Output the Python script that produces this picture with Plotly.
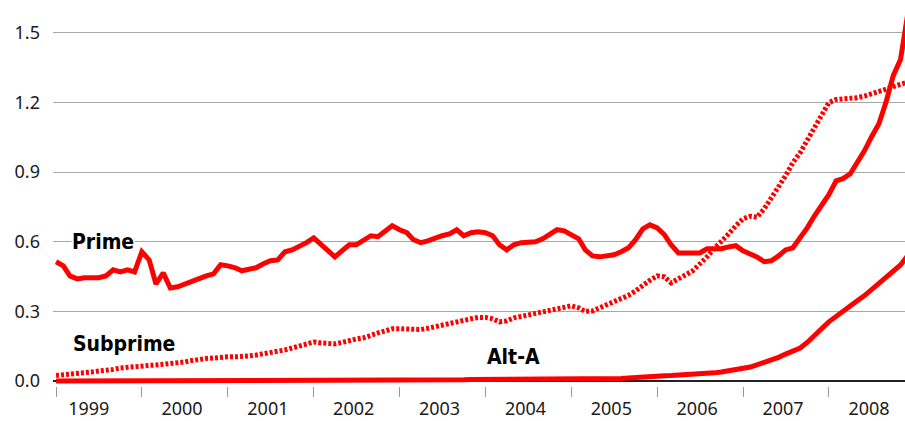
import pandas as pd
import plotly.graph_objects as go

# Monthly observations, Jan 1999 - Dec 2008
months = pd.date_range("1999-01-01", periods=120, freq="MS")

prime = [0.514,0.496,0.453,0.440,0.445,0.445,0.445,0.453,0.479,0.470,0.479,0.470,
         0.557,0.522,0.418,0.466,0.401,0.406,0.419,0.432,0.445,0.453,0.462,0.501,
         0.496,0.488,0.475,0.479,0.488,0.505,0.518,0.522,0.557,0.565,0.578,0.596,
         0.617,0.587,0.561,0.535,0.561,0.587,0.587,0.609,0.626,0.622,0.643,0.669,
         0.652,0.639,0.609,0.596,0.604,0.617,0.626,0.634,0.652,0.626,0.639,0.643,
         0.639,0.626,0.587,0.565,0.587,0.596,0.596,0.600,0.613,0.634,0.652,0.647,
         0.630,0.613,0.565,0.539,0.535,0.539,0.544,0.557,0.574,0.609,0.656,0.673,
         0.660,0.630,0.587,0.552,0.552,0.548,0.552,0.570,0.570,0.570,0.578,0.583,
         0.561,0.548,0.535,0.514,0.518,0.539,0.565,0.574,0.617,0.660,0.712,0.755,
         0.803,0.863,0.872,0.893,0.941,0.993,1.053,1.109,1.204,1.316,1.385,1.578]

subprime = [0.024,0.026,0.028,0.030,0.035,0.039,0.043,0.045,0.050,0.056,0.060,0.063,
            0.065,0.067,0.069,0.071,0.073,0.078,0.082,0.088,0.095,0.097,0.099,0.104,
            0.104,0.104,0.104,0.108,0.112,0.117,0.121,0.127,0.134,0.142,0.151,0.160,
            0.168,0.164,0.160,0.160,0.166,0.175,0.181,0.186,0.199,0.207,0.216,0.225,
            0.225,0.224,0.222,0.222,0.227,0.233,0.240,0.248,0.252,0.259,0.268,0.274,
            0.274,0.268,0.255,0.259,0.272,0.278,0.285,0.289,0.296,0.304,0.313,0.319,
            0.324,0.315,0.300,0.302,0.315,0.326,0.337,0.350,0.369,0.388,0.414,0.434,
            0.453,0.449,0.423,0.438,0.457,0.475,0.501,0.535,0.572,0.600,0.634,0.669,
            0.699,0.710,0.706,0.742,0.785,0.837,0.885,0.941,0.984,1.036,1.088,1.148,
            1.200,1.213,1.215,1.219,1.221,1.228,1.236,1.245,1.258,1.269,1.278,1.288]

alt_a = [0.000,0.000,0.000,0.000,0.000,0.000,0.000,0.000,0.000,0.000,0.000,0.001,
         0.001,0.001,0.001,0.001,0.001,0.001,0.001,0.001,0.001,0.002,0.002,0.002,
         0.003,0.003,0.002,0.002,0.002,0.002,0.002,0.002,0.002,0.003,0.003,0.003,
         0.003,0.003,0.003,0.003,0.003,0.004,0.004,0.004,0.004,0.004,0.004,0.004,
         0.004,0.004,0.005,0.005,0.005,0.005,0.005,0.005,0.005,0.005,0.006,0.006,
         0.006,0.006,0.006,0.006,0.006,0.007,0.007,0.007,0.007,0.007,0.007,0.007,
         0.007,0.007,0.008,0.008,0.009,0.009,0.010,0.011,0.013,0.016,0.019,0.021,
         0.022,0.023,0.024,0.025,0.026,0.027,0.029,0.032,0.035,0.039,0.043,0.049,
         0.054,0.060,0.069,0.079,0.090,0.102,0.116,0.130,0.142,0.166,0.193,0.225,
         0.255,0.280,0.303,0.325,0.346,0.368,0.393,0.418,0.443,0.470,0.500,0.540]

y_ticks = [0.0, 0.3, 0.6, 0.9, 1.2, 1.5]
year_labels = ["1999", "2000", "2001", "2002", "2003", "2004", "2005", "2006", "2007", "2008"]
year_label_dates = ["1999-05-20"] + [f"{y}-06-20" for y in year_labels[1:]]

RED = "#ff0000"
TEXT = "#1a1a1a"
GRID = "#a8a8a8"
FONT = "Noto Sans"
LABEL_FONT = "Liberation Sans Narrow, DejaVu Sans Condensed, Arial Narrow, sans-serif"

fig = go.Figure()
fig.add_trace(go.Scatter(x=months, y=subprime, mode="lines", name="Subprime",
                         line=dict(color=RED, width=5, dash="3px,2px")))
fig.add_trace(go.Scatter(x=months, y=alt_a, mode="lines", name="Alt-A",
                         line=dict(color=RED, width=5)))
fig.add_trace(go.Scatter(x=months, y=prime, mode="lines", name="Prime",
                         line=dict(color=RED, width=5)))

ann_font = dict(family=LABEL_FONT, size=21, color="#000000", weight="bold")
fig.add_annotation(x="1999-03-05", y=0.60, text="<b>Prime</b>", showarrow=False,
                   xanchor="left", yanchor="middle", font=ann_font,
                   bgcolor="white", borderpad=0)
fig.add_annotation(x="1999-03-05", y=0.16, text="<b>Subprime</b>", showarrow=False,
                   xanchor="left", yanchor="middle", font=ann_font)
fig.add_annotation(x="2004-01-01", y=0.103, text="<b>Alt-A</b>", showarrow=False,
                   xanchor="left", yanchor="middle", font=ann_font)

fig.update_layout(
    width=905, height=421,
    margin=dict(l=53, r=0, t=0, b=35),
    paper_bgcolor="white", plot_bgcolor="white",
    showlegend=False,
    font=dict(family=FONT, size=18, color=TEXT),
    xaxis=dict(
        type="date",
        range=["1998-12-19", "2008-11-20"],
        tickmode="array",
        tickvals=year_label_dates,
        ticktext=year_labels,
        ticks="",
        showgrid=False,
        showline=False,
        zeroline=False,
        ticklabelstandoff=10,
        minor=dict(dtick="M12", tick0="1999-01-01", ticks="outside",
                   ticklen=10, tickwidth=1, tickcolor="#999999", showgrid=False),
    ),
    yaxis=dict(
        range=[-0.0216, 1.642],
        tickvals=y_ticks,
        tickformat=".1f",
        showgrid=True, gridcolor=GRID, gridwidth=1,
        zeroline=True, zerolinecolor="#222222", zerolinewidth=1.5,
        showline=False,
        ticks="",
        ticklabelstandoff=12,
    ),
)

fig.write_html(
    "out.html",
    config={"displayModeBar": False},
    post_script="document.body.style.margin='0';document.body.style.overflow='hidden';",
)
